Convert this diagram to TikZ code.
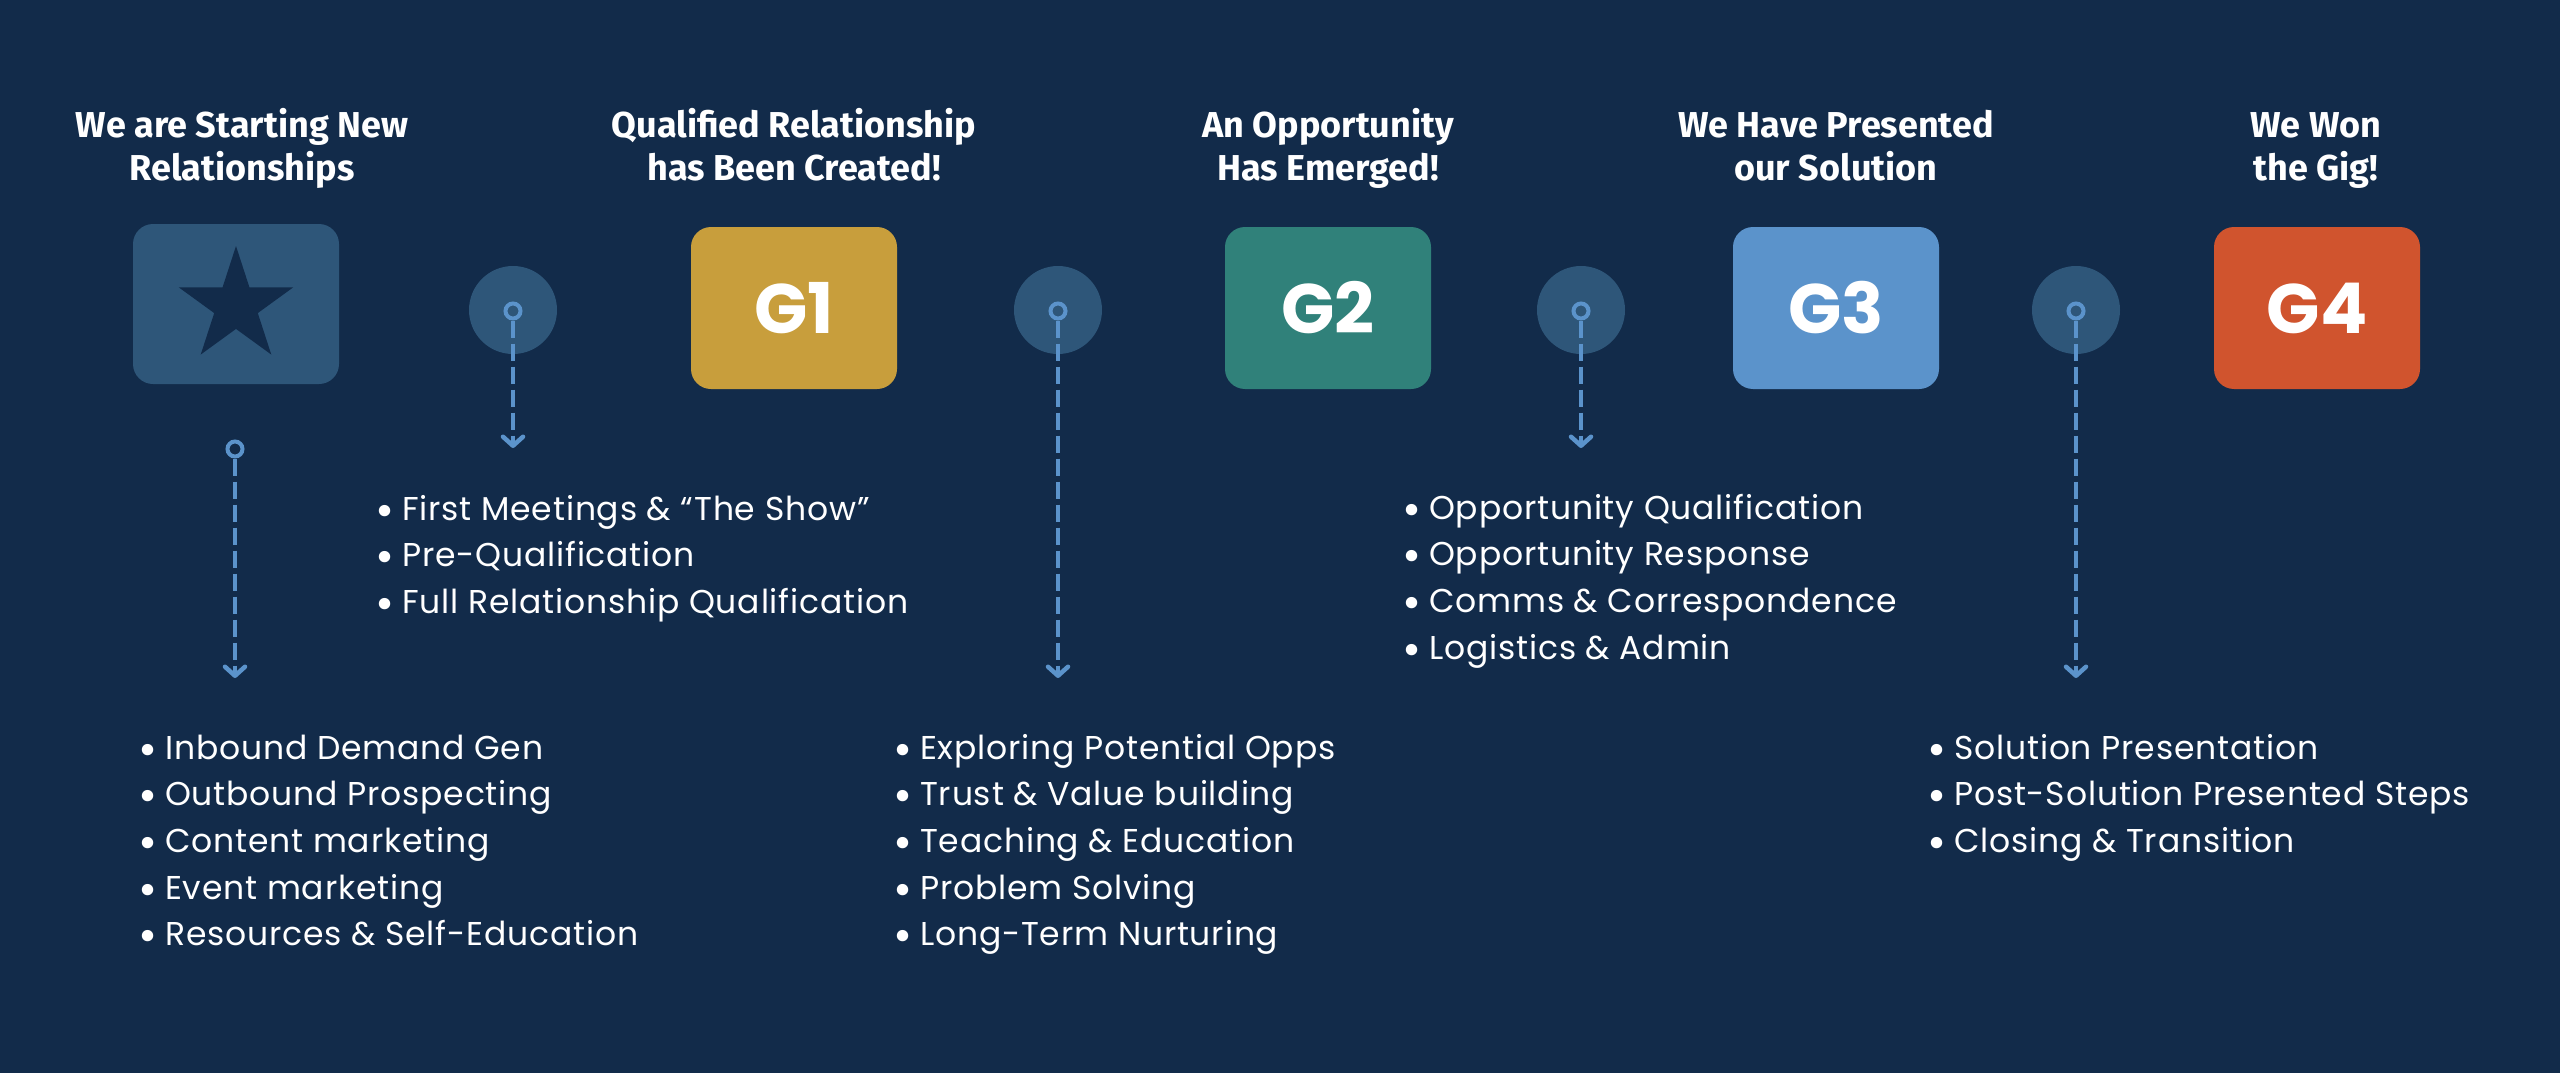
\documentclass[tikz,border=0pt]{standalone}
\usepackage{fontspec}
\setmainfont{Poppins}
\newfontfamily\listfont{Poppins}[LetterSpace=2.5]
\newfontfamily\titlefont{Fira Sans}
\usetikzlibrary{arrows.meta,shapes.geometric}
\definecolor{bgc}{RGB}{18,43,74}
\definecolor{tilec}{RGB}{46,86,121}
\definecolor{cgold}{RGB}{200,158,60}
\definecolor{cteal}{RGB}{48,129,122}
\definecolor{cblue}{RGB}{91,147,203}
\definecolor{corange}{RGB}{208,84,46}
\definecolor{dashc}{RGB}{91,147,203}
\newcommand\blt{\makebox[27pt][l]{\raisebox{-6pt}{\scalebox{1.4}{•}}}}
\tikzset{
  ttl/.style={anchor=base, inner sep=0, text=white, font=\titlefont\bfseries\fontsize{36}{43}\selectfont},
  gbox/.style={rounded corners=20pt, minimum width=206pt, minimum height=162pt, inner sep=0, text=white, font=\bfseries\fontsize{70}{70}\selectfont},
  disc/.style={circle, fill=tilec, minimum size=88pt, inner sep=0},
  ring/.style={circle, draw=dashc, line width=4pt, minimum size=15pt, inner sep=0},
  flow/.style={draw=dashc, line width=4.5pt, dash pattern=on 17pt off 6pt, -{Straight Barb[length=9pt,width=20pt,round]}},
  blist/.style={anchor=base west, inner sep=0, text=white, font=\listfont\fontsize{33}{46.7}\selectfont}
}
\begin{document}
\begin{tikzpicture}[x=1pt,y=-1pt]
\useasboundingbox (0,0) rectangle (2560,1073);
\fill[bgc] (0,0) rectangle (2560,1073);

% titles
\node[ttl] (t0) at (242,137) {\begin{tabular}[t]{@{}c@{}}We are Starting New\\Relationships\end{tabular}};
\node[ttl] (t1) at (794,137) {\begin{tabular}[t]{@{}c@{}}Qualified Relationship\\has Been Created!\end{tabular}};
\node[ttl] (t2) at (1328,137) {\begin{tabular}[t]{@{}c@{}}An Opportunity\\Has Emerged!\end{tabular}};
\node[ttl] (t3) at (1836,137) {\begin{tabular}[t]{@{}c@{}}We Have Presented\\our Solution\end{tabular}};
\node[ttl] (t4) at (2316,137) {\begin{tabular}[t]{@{}c@{}}We Won\\the Gig!\end{tabular}};

% boxes
\node[gbox, fill=tilec, minimum height=160pt] (b0) at (236,304) {};
\node[star, star points=5, star point ratio=2.618, minimum size=120pt, inner sep=0, fill=bgc] (st) at (236,306) {};
\node[gbox, fill=cgold] (b1) at (794,308) {G1};
\node[gbox, fill=cteal] (b2) at (1328,308) {G2};
\node[gbox, fill=cblue] (b3) at (1836,308) {G3};
\node[gbox, fill=corange] (b4) at (2317,308) {G4};

% discs
\node[disc] (d1) at (513,310) {};
\node[disc] (d2) at (1058,310) {};
\node[disc] (d3) at (1581,310) {};
\node[disc] (d4) at (2076,310) {};

% rings
\node[ring] (r0) at (235,449) {};
\node[ring] (r1) at (513,311) {};
\node[ring] (r2) at (1058,311) {};
\node[ring] (r3) at (1581,311) {};
\node[ring] (r4) at (2076,311) {};

% arrow ends
\coordinate (a0) at (235,678);
\coordinate (a1) at (513,448);
\coordinate (a2) at (1058,678);
\coordinate (a3) at (1581,448);
\coordinate (a4) at (2076,678);

\draw[flow] (r0.south) -- (a0);
\draw[flow] (r1.south) -- (a1);
\draw[flow] (r2.south) -- (a2);
\draw[flow] (r3.south) -- (a3);
\draw[flow] (r4.south) -- (a4);

% lists
\node[blist] (l0) at (138,759) {\begin{tabular}[t]{@{}l@{}}\blt Inbound Demand Gen\\\blt Outbound Prospecting\\\blt Content marketing\\\blt Event marketing\\\blt Resources \& Self-Education\end{tabular}};
\node[blist] (l1) at (375,520) {\begin{tabular}[t]{@{}l@{}}\blt First Meetings \& “The Show”\\\blt Pre-Qualification\\\blt Full Relationship Qualification\end{tabular}};
\node[blist] (l2) at (893,759) {\begin{tabular}[t]{@{}l@{}}\blt Exploring Potential Opps\\\blt Trust \& Value building\\\blt Teaching \& Education\\\blt Problem Solving\\\blt Long-Term Nurturing\end{tabular}};
\node[blist] (l3) at (1402,519) {\begin{tabular}[t]{@{}l@{}}\blt Opportunity Qualification\\\blt Opportunity Response\\\blt Comms \& Correspondence\\\blt Logistics \& Admin\end{tabular}};
\node[blist] (l4) at (1927,759) {\begin{tabular}[t]{@{}l@{}}\blt Solution Presentation\\\blt Post-Solution Presented Steps\\\blt Closing \& Transition\end{tabular}};
\end{tikzpicture}
\end{document}
